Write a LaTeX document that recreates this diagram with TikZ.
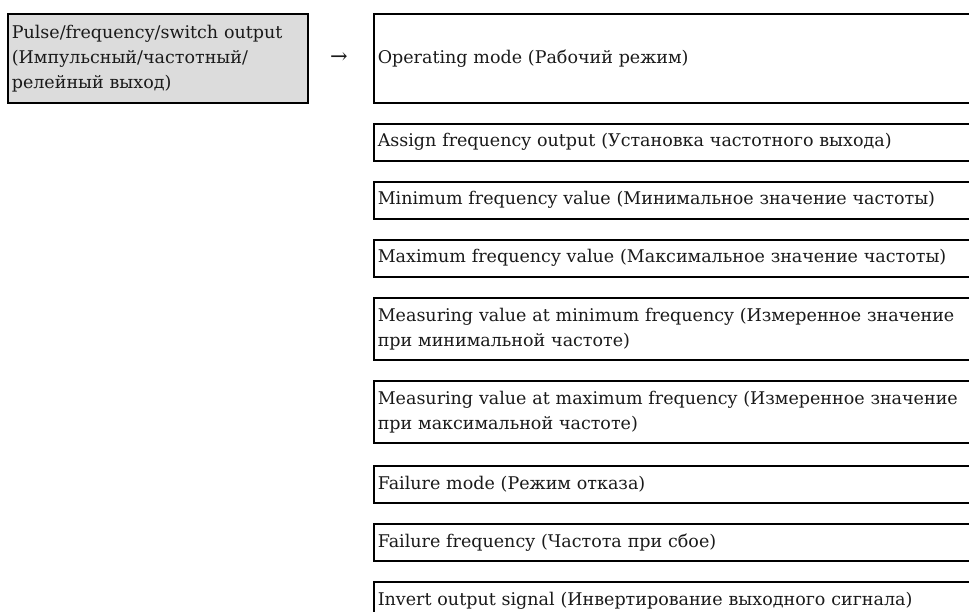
\documentclass[tikz,border=0pt]{standalone}
\usepackage{fontspec}
\setmainfont{DejaVu Serif}
\usepackage{xcolor}
\definecolor{menugray}{HTML}{DCDCDC}
\definecolor{menuink}{HTML}{1A1A1A}
\tikzset{
  menubox/.style={draw=black,line width=1.6pt,anchor=north west,align=left,
    inner xsep=4pt,inner ysep=0pt,text=menuink,
    font=\fontsize{17.5}{25}\selectfont},
  parambox/.style={menubox,text width=620pt},
}
% one box of the submenu: name, top (y), height, text
\newcommand{\parambox}[4]{%
  \node[parambox,minimum height=#3pt] (#1) at (373,#2) {#4};
}

\begin{document}
\begin{tikzpicture}[x=1pt,y=1pt]
\useasboundingbox (0,0) rectangle (969,612);
\fill[white] (0,0) rectangle (969,612);

% menu entry
\node[menubox,fill=menugray,text width=292pt,minimum height=89pt] (menu)
  at (7,599) {Pulse/frequency/switch output\\(Импульсный/частотный/\\релейный выход)};
\node[font=\fontsize{21}{24}\selectfont,text=menuink] (arrow) at (339,554) {→};

% submenu
\parambox{opmode}{599}{89}{Operating mode (Рабочий режим)}
\parambox{assign}{489}{37}{Assign frequency output (Установка частотного выхода)}
\parambox{minfreq}{431}{37}{Minimum frequency value (Минимальное значение частоты)}
\parambox{maxfreq}{373}{37}{Maximum frequency value (Максимальное значение частоты)}
\parambox{measmin}{315}{62}{Measuring value at minimum frequency (Измеренное значение\\при минимальной частоте)}
\parambox{measmax}{232}{62}{Measuring value at maximum frequency (Измеренное значение\\при максимальной частоте)}
\parambox{failmode}{147}{37}{Failure mode (Режим отказа)}
\parambox{failfreq}{89}{37}{Failure frequency (Частота при сбое)}
\parambox{invert}{31}{37}{Invert output signal (Инвертирование выходного сигнала)}

\end{tikzpicture}
\end{document}
